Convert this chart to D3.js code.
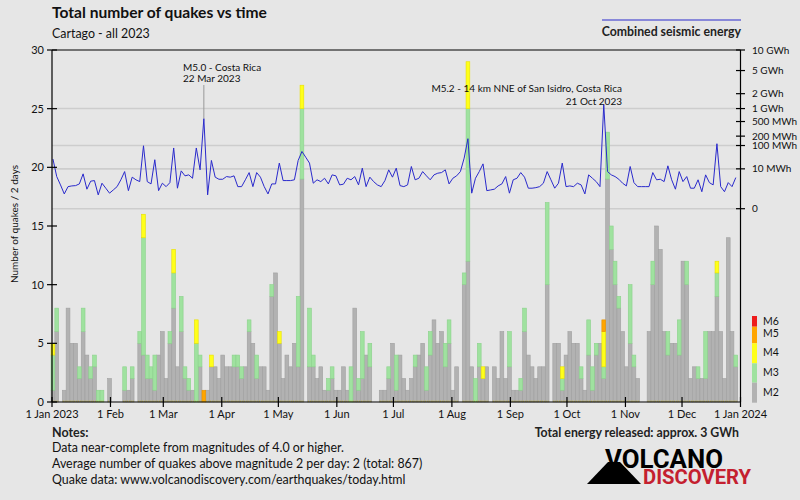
<!DOCTYPE html>
<html><head><meta charset="utf-8">
<script src="https://cdn.jsdelivr.net/npm/d3@7/dist/d3.min.js"></script>
<style>
html,body{margin:0;padding:0;background:#e6e6e6;}
svg{display:block;font-family:Lato,"Liberation Sans",sans-serif;}
</style></head><body>
<svg id="c" width="800" height="500"></svg>
<script>
// ---------------- DATA ----------------
const startDate = "2023-01-01";
const endDate = "2024-01-01";
const binDays = 2;
const magClasses = ["M2","M3","M4","M5","M6"];
const magColors = ["#b2b2b2","#9fe29f","#ffff1a","#ffa500","#ee1c1c"];
const magStrokes = ["#a0a0a0","#8cd28c","#e8e000","#e69000","#cc0000"];
// counts per 2-day bin, by magnitude class
const m2 = [1,6,0,1,8,5,5,2,6,4, 2,3,0,0,0,2,0,0,0,1, 1,2,0,5,4,2,2,1,4,6,
  2,5,8,3,6,2,1,1,0,3, 0,1,3,3,2,4,3,3,3,3, 2,3,6,5,2,3,3,1,9,11,
  5,2,4,3,5,3,19,0,3,3, 2,3,1,1,2,1,1,3,1,0, 8,1,2,4,3,0,0,1,1,2,
  5,1,4,2,1,2,3,4,5,1, 4,7,5,6,3,5,1,3,0,10, 12,3,0,3,2,3,0,3,2,6,
  2,3,1,1,1,6,4,3,2,3, 3,10,0,5,5,1,4,6,5,5, 2,1,4,1,4,5,2,19,13,10,
  8,6,3,5,3,2,0,0,6,10, 15,13,6,4,5,5,4,12,10,2, 3,2,2,2,6,6,9,6,2,14, 6,3,0];
const m3 = [3,2,0,0,0,0,0,1,2,0, 1,1,1,1,0,0,0,0,0,2, 0,1,0,1,10,2,1,3,0,0,
  0,1,3,0,3,1,1,0,5,1, 0,0,0,0,0,0,0,0,1,1, 1,0,1,0,2,0,0,0,1,0,
  0,0,0,0,0,6,6,0,5,1, 0,0,0,1,1,0,0,0,0,3, 0,1,4,0,2,0,0,0,0,1,
  0,3,0,0,0,0,1,0,0,2, 2,0,0,0,2,2,0,0,0,1, 13,0,2,2,0,0,0,0,0,0,
  0,3,0,0,1,2,0,0,0,0, 0,7,0,0,0,1,0,0,0,0, 1,0,3,2,1,0,1,4,2,2,
  1,0,0,5,1,0,0,0,0,2, 0,0,0,2,0,0,3,0,2,0, 0,1,0,4,0,0,2,0,0,0, 0,1,0];
const m4 = [1,0,0,0,0,0,0,0,0,0, 0,0,0,0,0,0,0,0,0,0, 0,0,0,0,2,0,0,0,0,0,
  0,0,2,0,0,0,0,0,2,0, 0,0,1,0,0,0,0,0,0,0, 0,0,0,0,0,0,0,0,0,0,
  1,0,0,0,0,0,2,0,0,0, 0,0,0,0,0,0,0,0,0,0, 0,0,0,0,0,0,0,0,0,0,
  0,0,0,0,0,0,0,0,0,0, 0,0,0,0,0,0,0,0,0,0, 4,0,0,0,1,0,0,0,0,0,
  0,0,0,0,0,0,0,0,0,0, 0,0,0,0,0,1,0,0,0,0, 0,0,0,0,0,0,3,0,0,0,
  0,0,0,0,0,0,0,0,0,0, 0,0,0,0,0,0,0,0,0,0, 0,0,0,0,0,0,1,0,0,0, 0,0,0];
const m5 = [0,0,0,0,0,0,0,0,0,0, 0,0,0,0,0,0,0,0,0,0, 0,0,0,0,0,0,0,0,0,0,
  0,0,0,0,0,0,0,0,0,0, 1,0,0,0,0,0,0,0,0,0, 0,0,0,0,0,0,0,0,0,0,
  0,0,0,0,0,0,0,0,0,0, 0,0,0,0,0,0,0,0,0,0, 0,0,0,0,0,0,0,0,0,0,
  0,0,0,0,0,0,0,0,0,0, 0,0,0,0,0,0,0,0,0,0, 0,0,0,0,0,0,0,0,0,0,
  0,0,0,0,0,0,0,0,0,0, 0,0,0,0,0,0,0,0,0,0, 0,0,0,0,0,0,1,0,0,0,
  0,0,0,0,0,0,0,0,0,0, 0,0,0,0,0,0,0,0,0,0, 0,0,0,0,0,0,0,0,0,0, 0,0,0];
const m6 = new Array(183).fill(0);
// combined seismic energy per 2-day bin, MWh
const energyMWh = [30,3.4,0.76,0.07,0.52,0.61,0.65,0.93,5.1,0.28,
  1.57,1.75,0.05,1.07,0.36,0.09,0.23,0.52,2.0,7.0,
  0.19,3.1,2.0,1.45,98,1.45,0.93,28,0.19,1.07,
  0.52,1.2,82,0.36,7.7,3.8,4.4,2.6,82,8.8,
  590,0.05,26,3.1,2.2,2.2,3.4,3.1,3.8,0.52,
  0.52,2.0,6.1,0.52,6.1,3.1,0.52,0.07,0.93,0.93,
  19.6,1.75,1.75,1.75,2.0,26,61,36,19.6,1.07,
  2.0,1.45,2.6,0.93,4.4,3.8,0.76,0.88,2.6,2.0,
  3.4,0.76,10.9,0.52,3.1,1.45,0.76,0.52,1.75,8.8,
  3.1,10.9,0.65,0.52,0.76,13.3,2.0,2.6,7.0,3.8,
  2.0,4.4,5.6,6.1,8.8,0.93,2.6,3.8,7.0,33,
  167,0.09,2.6,7.0,18,0.19,0.23,0.28,0.61,0.93,
  3.4,0.09,2.0,2.6,6.1,3.1,0.36,0.36,0.41,0.52,
  1.07,7.0,2.0,0.36,1.07,19.6,0.52,0.61,0.52,1.07,
  0.76,0.07,4.4,2.6,1.45,0.52,1218,7.0,4.4,3.4,
  2.2,1.07,0.61,13.3,1.2,0.52,0.52,0.52,0.52,6.1,
  2.0,2.2,1.45,14.4,2.0,0.28,7.0,1.45,3.4,0.36,
  0.36,2.0,0.14,4.4,1.2,0.76,115,0.52,0.14,1.2,
  0.52,2.9];
const monthTicks = ["2023-01-01","2023-02-01","2023-03-01","2023-04-01","2023-05-01","2023-06-01","2023-07-01","2023-08-01","2023-09-01","2023-10-01","2023-11-01","2023-12-01","2024-01-01"];
const monthLabels = ["1 Jan 2023","1 Feb","1 Mar","1 Apr","1 May","1 Jun","1 Jul","1 Aug","1 Sep","1 Oct","1 Nov","1 Dec","1 Jan 2024"];
const countTicks = [0,5,10,15,20,25,30];
const energyTicks = [0,10,100,200,500,1000,2000,5000,10000];
const energyTickLabels = ["0","10 MWh","100 MWh","200 MWh","500 MWh","1 GWh","2 GWh","5 GWh","10 GWh"];
const energyGrid = [0,10,100,1000];
const annotations = [
  {bin:40, lines:["M5.0 - Costa Rica","22 Mar 2023"]},
  {bin:146, lines:["M5.2 - 14 km NNE of San Isidro, Costa Rica","21 Oct 2023"]}
];
const titleText = "Total number of quakes vs time";
const subtitleText = "Cartago - all 2023";
const energyLegend = "Combined seismic energy";
const yTitle = "Number of quakes / 2 days";
const notes = ["Data near-complete from magnitudes of 4.0 or higher.",
  "Average number of quakes above magnitude 2 per day: 2 (total: 867)",
  "Quake data: www.volcanodiscovery.com/earthquakes/today.html"];
const totalEnergyText = "Total energy released: approx. 3 GWh";

// ---------------- CHART ----------------
const svg = d3.select("#c");
const parse = d3.utcParse("%Y-%m-%d");
const t0 = parse(startDate), t1 = parse(endDate);
const X0 = 52, X1 = 740.5, Y0 = 402, Y1 = 50;
const x = d3.scaleUtc().domain([t0, t1]).range([X0, X1]);
const yL = d3.scaleLinear().domain([0, 30]).range([Y0, Y1]);
const yR = d3.scalePow().exponent(0.2).domain([0, 10000]).range([208.7, Y1]);
const binStart = i => d3.utcDay.offset(t0, i * binDays);
const bw = x(binStart(1)) - x(t0);

svg.append("rect").attr("width",800).attr("height",500).attr("fill","#e6e6e6");

// grid lines (energy axis)
svg.append("g").selectAll("line").data(energyGrid).join("line")
  .attr("x1", X0).attr("x2", X1).attr("y1", d => yR(d)).attr("y2", d => yR(d))
  .attr("stroke", "#cdcdcd").attr("stroke-width", 1.6);

// stacked bars
const rows = m2.map((v, i) => ({date: binStart(i), M2: v, M3: m3[i], M4: m4[i], M5: m5[i], M6: m6[i]}));
const series = d3.stack().keys(magClasses)(rows);
const gBars = svg.append("g");
series.forEach((s, k) => {
  gBars.append("g").selectAll("rect").data(s.filter(d => d[1] > d[0])).join("rect")
    .attr("x", d => x(d.data.date) - 0.94)
    .attr("width", bw)
    .attr("y", d => yL(d[1]))
    .attr("height", d => yL(d[0]) - yL(d[1]))
    .attr("fill", magColors[k])
    .attr("stroke", magStrokes[k]).attr("stroke-width", 0.6);
});
// faint base marks under bars
gBars.append("g").selectAll("line").data(rows.filter(r => r.M2 + r.M3 + r.M4 + r.M5 > 0)).join("line")
  .attr("x1", d => x(d.date) - 0.5).attr("x2", d => x(d.date) + bw - 1.4)
  .attr("y1", Y0 - 0.8).attr("y2", Y0 - 0.8)
  .attr("stroke", "#c9b826").attr("stroke-width", 1).attr("stroke-dasharray", "1,1");

// energy line
const line = d3.line().x((d, i) => x(binStart(i)) + 0.95).y(d => yR(d));
svg.append("path").datum(energyMWh).attr("d", line)
  .attr("fill", "none").attr("stroke", "#2a2acc").attr("stroke-width", 1);

// annotations
const ann = svg.append("g").attr("fill", "#111").style("font-size", "10px");
{
  const a = annotations[0];
  const ax = x(binStart(a.bin)) + 0.95;
  svg.append("line").attr("x1", ax).attr("x2", ax).attr("y1", 85).attr("y2", yR(energyMWh[a.bin]))
    .attr("stroke", "#999").attr("stroke-width", 1);
  ann.append("text").attr("x", 183).attr("y", 70.5).text(a.lines[0]);
  ann.append("text").attr("x", 183).attr("y", 82).text(a.lines[1]);
  const b = annotations[1];
  ann.append("text").attr("x", 622).attr("y", 92).attr("text-anchor", "end").text(b.lines[0]);
  ann.append("text").attr("x", 622).attr("y", 105).attr("text-anchor", "end").text(b.lines[1]);
}

// frame / axes
const axisG = svg.append("g").attr("stroke", "#000").attr("stroke-width", 1.2);
axisG.append("line").attr("x1", X0).attr("x2", X1).attr("y1", Y1).attr("y2", Y1);
axisG.append("line").attr("x1", X0).attr("x2", X1).attr("y1", Y0).attr("y2", Y0);
axisG.append("line").attr("x1", X0).attr("x2", X0).attr("y1", Y1).attr("y2", Y0);
axisG.append("line").attr("x1", X1).attr("x2", X1).attr("y1", Y1).attr("y2", Y0);

// left axis
axisG.append("g").selectAll("line").data(countTicks).join("line")
  .attr("x1", 47).attr("x2", 57).attr("y1", d => yL(d)).attr("y2", d => yL(d));
svg.append("g").style("font-size", "11px").attr("fill", "#111").selectAll("text").data(countTicks).join("text")
  .attr("x", 44).attr("y", d => yL(d)).attr("dy", "0.35em").attr("text-anchor", "end").text(d => d);

// right axis
axisG.append("g").selectAll("line").data(energyTicks).join("line")
  .attr("x1", 736).attr("x2", 745).attr("y1", d => yR(d)).attr("y2", d => yR(d));
svg.append("g").style("font-size", "10px").attr("fill", "#111").selectAll("text").data(energyTicks).join("text")
  .attr("x", 752).attr("y", d => yR(d)).attr("dy", "0.35em").text((d, i) => energyTickLabels[i]);

// bottom axis
const mt = monthTicks.map(parse);
axisG.append("g").selectAll("line").data(mt).join("line")
  .attr("x1", d => x(d)).attr("x2", d => x(d)).attr("y1", 397).attr("y2", 407);
svg.append("g").style("font-size", "11px").attr("fill", "#111").selectAll("text").data(mt).join("text")
  .attr("x", d => x(d)).attr("y", 417.5).attr("text-anchor", "middle").text((d, i) => monthLabels[i]);

// y title
svg.append("text").attr("transform", "translate(18,224) rotate(-90)").attr("text-anchor", "middle")
  .style("font-size", "10px").attr("fill", "#111").text(yTitle);

// titles
svg.append("text").attr("x", 52).attr("y", 17.5).style("font-size", "15.6px").style("font-weight", "bold")
  .attr("fill", "#111").text(titleText);
svg.append("text").attr("x", 52).attr("y", 37.5).style("font-size", "12.4px").attr("fill", "#111").text(subtitleText);

// energy legend
svg.append("line").attr("x1", 602).attr("x2", 741).attr("y1", 20).attr("y2", 20).attr("stroke", "#2a2acc").attr("stroke-width", 1);
svg.append("text").attr("x", 741).attr("y", 36).attr("text-anchor", "end").style("font-size", "12.3px")
  .style("font-weight", "bold").attr("fill", "#222").text(energyLegend);

// magnitude legend
const legTop = [316, 326.7, 343.3, 363.3, 382.7, 402.7];
const legLabY = [321, 333.5, 352, 372, 392];
const legOrder = [4, 3, 2, 1, 0];
const lg = svg.append("g");
legOrder.forEach((k, j) => {
  lg.append("rect").attr("x", 752).attr("y", legTop[j]).attr("width", 5).attr("height", legTop[j + 1] - legTop[j]).attr("fill", magColors[k]);
  lg.append("text").attr("x", 763).attr("y", legLabY[j]).attr("dy", "0.35em").style("font-size", "10.5px").attr("fill", "#111").text(magClasses[k]);
});

// notes
svg.append("text").attr("x", 52).attr("y", 437).style("font-size", "12.5px").style("font-weight", "bold").attr("fill", "#222").text("Notes:");
svg.append("g").style("font-size", "12.4px").attr("fill", "#111").selectAll("text").data(notes).join("text")
  .attr("x", 52).attr("y", (d, i) => 451.5 + i * 16).text(d => d);
svg.append("text").attr("x", 739).attr("y", 437).attr("text-anchor", "end").style("font-size", "12.3px")
  .style("font-weight", "bold").attr("fill", "#222").text(totalEnergyText);

// logo
const logo = svg.append("g");
logo.append("path").attr("d", "M587,484 L608,462 L620,462 L641,484 Z").attr("fill", "#000");
logo.append("text").attr("x", 605).attr("y", 467.5).attr("textLength", 118).attr("lengthAdjust", "spacingAndGlyphs")
  .style("font-family", "Roboto, 'Liberation Sans', sans-serif").style("font-size", "25px").style("font-weight", "bold").attr("fill", "#000").text("VOLCANO");
logo.append("text").attr("x", 643).attr("y", 484).attr("textLength", 108).attr("lengthAdjust", "spacingAndGlyphs")
  .style("font-family", "Roboto, 'Liberation Sans', sans-serif").style("font-size", "21px").style("font-weight", "bold").attr("fill", "#c4202f").text("DISCOVERY");
</script>
</body></html>
